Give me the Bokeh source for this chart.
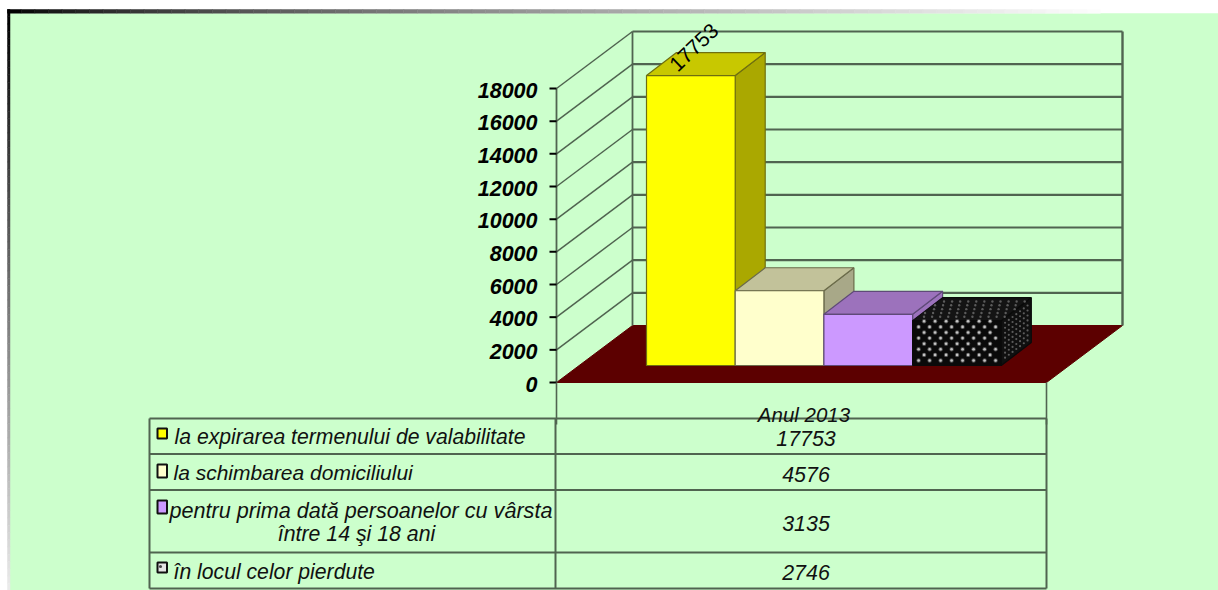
from bokeh.plotting import figure
from bokeh.models import Range1d
from bokeh.core.properties import value
from bokeh.embed import file_html
from bokeh.resources import INLINE

categories = ["la expirarea termenului de valabilitate", "la schimbarea domiciliului",
              "pentru prima dată persoanelor cu vârsta", "în locul celor pierdute"]
category_extra = {2: "între 14 şi 18 ani"}
values = [17753, 4576, 3135, 2746]
period = "Anul 2013"
ticks = [0, 2000, 4000, 6000, 8000, 10000, 12000, 14000, 16000, 18000]
front_colors = ["#FFFF00", "#FFFFCC", "#CC99FF", "#0a0a0a"]
top_colors = ["#C8C800", "#C2C29A", "#9C72BC", "#141414"]
side_colors = ["#AAA800", "#A8A888", "#9C72BC", "#101010"]
edge_colors = ["#6f6f10", "#6b6b4a", "#5f4a78", "#0a0a0a"]

BG = "#CCFFCC"
LINE = "#506450"
FONT = value("Liberation Sans")

PX_PER_UNIT = 294 / 18000
Y0 = 382


def V(py):
    return (Y0 - py) / PX_PER_UNIT


p = figure(width=1218, height=590, output_backend="svg", toolbar_location=None,
           x_range=Range1d(0, 1218), y_range=Range1d(V(590), V(0)),
           min_border=0, background_fill_color="white",
           border_fill_color="white", outline_line_color=None)
p.axis.visible = False
p.grid.visible = False

# page panel
p.quad(left=[9.5], right=[1218], top=[V(12.7)], bottom=[V(590)], fill_color=BG, line_color=None)

# gradient frame
N = 80
grey = lambda t: "#%02x%02x%02x" % ((int(255 * t),) * 3)
top_x = [7 + i * (1100 - 7) / N for i in range(N + 1)]
top_c = [grey((i / N) ** 0.7) for i in range(N)]
p.quad(left=top_x[:-1], right=top_x[1:], top=V(9), bottom=V(12.7),
       fill_color=top_c, line_color=top_c, line_width=0.5)
left_y = [9 + i * (590 - 9) / N for i in range(N + 1)]
left_c = [grey(0.93 * i / N) for i in range(N)]
p.quad(left=7, right=9.5, top=[V(y) for y in left_y[:-1]], bottom=[V(y) for y in left_y[1:]],
       fill_color=left_c, line_color=left_c, line_width=0.5)

# walls geometry
XL, XR = 556, 1046
DX, DY = 76, 57 / PX_PER_UNIT

# floor
p.patch([XL, XR, XR + DX, XL + DX], [0, 0, DY, DY], fill_color="#5c0000", line_color="#5c0000")

# gridlines on back and side walls
for t in ticks[1:]:
    p.line([XL, XL + DX], [t, t + DY], line_color=LINE, line_width=1.5)
    p.line([XL + DX, XR + DX], [t + DY, t + DY], line_color=LINE, line_width=2.2)
wall_top = ticks[-1] + DY
p.line([XL, XL], [0, ticks[-1]], line_color=LINE, line_width=1.8)
p.line([XL + DX, XL + DX], [DY, wall_top], line_color=LINE, line_width=1.8)
p.line([XR + DX, XR + DX], [DY, wall_top], line_color=LINE, line_width=2.4)

# tick marks and labels
p.segment(x0=549, x1=556, y0=ticks, y1=ticks, line_color="black", line_width=2)
p.text(x=[537] * len(ticks), y=ticks, text=[str(t) for t in ticks], text_font=FONT,
       text_font_style="bold italic", text_font_size="21.5px", text_align="right",
       text_baseline="middle", text_color="black", y_offset=1.5)

# bars
BAR_X = 646
BAR_W = 88.7
BASE = V(365)
DDX, DDY = 30, 23 / PX_PER_UNIT
for i, v in enumerate(values):
    l = BAR_X + i * BAR_W
    r = l + BAR_W
    t = BASE + v
    p.patch([r, r + DDX, r + DDX, r], [BASE, BASE + DDY, t + DDY, t],
            fill_color=side_colors[i], line_color=edge_colors[i], line_width=1.2)
    p.patch([l, l + DDX, r + DDX, r], [t, t + DDY, t + DDY, t],
            fill_color=top_colors[i], line_color=edge_colors[i], line_width=1.2)
    p.quad(left=[l], right=[r], top=[t], bottom=[BASE],
           fill_color=front_colors[i], line_color=edge_colors[i], line_width=1.2)

# dotted texture of the last bar, laid out from that bar's own geometry
l = BAR_X + 3 * BAR_W
r = l + BAR_W
t = BASE + values[3]
fx, fy, sx, sy, ux, uy = [], [], [], [], [], []
row = 0
py = 5.0
while py < values[3] * PX_PER_UNIT:
    cx = l + (6 if row % 2 == 0 else 11.5)
    while cx < r - 2:
        fx.append(cx)
        fy.append(BASE + py / PX_PER_UNIT)
        cx += 11
    row += 1
    py += 5.6
for a in range(1, 8):
    f = a / 8
    for b in range(1, 9):
        g = b / 9
        sx.append(r + f * DDX)
        sy.append(BASE + f * DDY + g * values[3])
for a in range(1, 6):
    f = a / 6
    for b in range(0, 11):
        g = (b + (0.5 if a % 2 else 0.0) + 0.3) / 11
        ux.append(l + g * BAR_W + f * DDX)
        uy.append(t + f * DDY)
p.scatter(fx, fy, size=4.4, marker="circle", fill_color="#505050", line_color=None)
p.scatter(fx, fy, size=2.6, marker="circle", fill_color="#c4c4c4", line_color=None)
p.scatter(sx, sy, size=2.2, marker="circle", fill_color="#5c5c5c", line_color=None)
p.scatter(ux, uy, size=2.4, marker="circle", fill_color="#5c5c5c", line_color=None)

# data label on the first bar
p.text(x=[693.5], y=[V(47)], text=[str(values[0])],
       text_font=FONT, text_font_size="21px", text_align="center", text_baseline="middle",
       angle=0.76, text_color="black")

# data table
TX0, TX1, TX2 = 149, 555, 1046
rows = [418, 453.5, 489.5, 552, 588]
for y in rows:
    p.line([TX0, TX2], [V(y), V(y)], line_color=LINE, line_width=2)
for x in [TX0, TX1, TX2]:
    p.line([x, x], [V(rows[0]), V(rows[-1])], line_color=LINE, line_width=2)
p.line([XL, XL], [0, V(424)], line_color=LINE, line_width=1.6)
p.line([XR, XR], [0, V(424)], line_color=LINE, line_width=1.6)

text_kw = dict(text_font=FONT, text_font_style="italic",
               text_baseline="middle", text_color="#111111")
p.text(x=[803.5], y=[V(414)], text=[period], text_align="center", text_font_size="20.5px", **text_kw)
for i, v in enumerate(values):
    mid = (rows[i] + rows[i + 1]) / 2 + 2
    p.text(x=[805.5], y=[V(mid)], text=[str(v)], text_align="center", text_font_size="21.4px", **text_kw)

label_x = [174, 173, 169, 173]
label_y = [436, 472, 510, 571]
label_size = ["21.2px", "21px", "21.6px", "21.2px"]
sw_top = [428, 464, 500, 562]
sw_bot = [438, 477, 513, 572]
for i, c in enumerate(categories):
    p.text(x=[label_x[i]], y=[V(label_y[i])], text=[c], text_align="left", text_font_size=label_size[i], **text_kw)
    fill = front_colors[i] if i < 3 else "#e4e4e4"
    p.quad(left=[157], right=[166.5], top=[V(sw_top[i])], bottom=[V(sw_bot[i])],
           fill_color=fill, line_color="#111111", line_width=2)
    if i == 3:
        p.scatter([160], [V(566)], size=3, marker="circle", fill_color="#444444", line_color=None)
p.text(x=[356], y=[V(533)], text=[category_extra[2]], text_align="center", text_font_size="21.3px", **text_kw)

open("out.html", "w").write(file_html(p, INLINE))
